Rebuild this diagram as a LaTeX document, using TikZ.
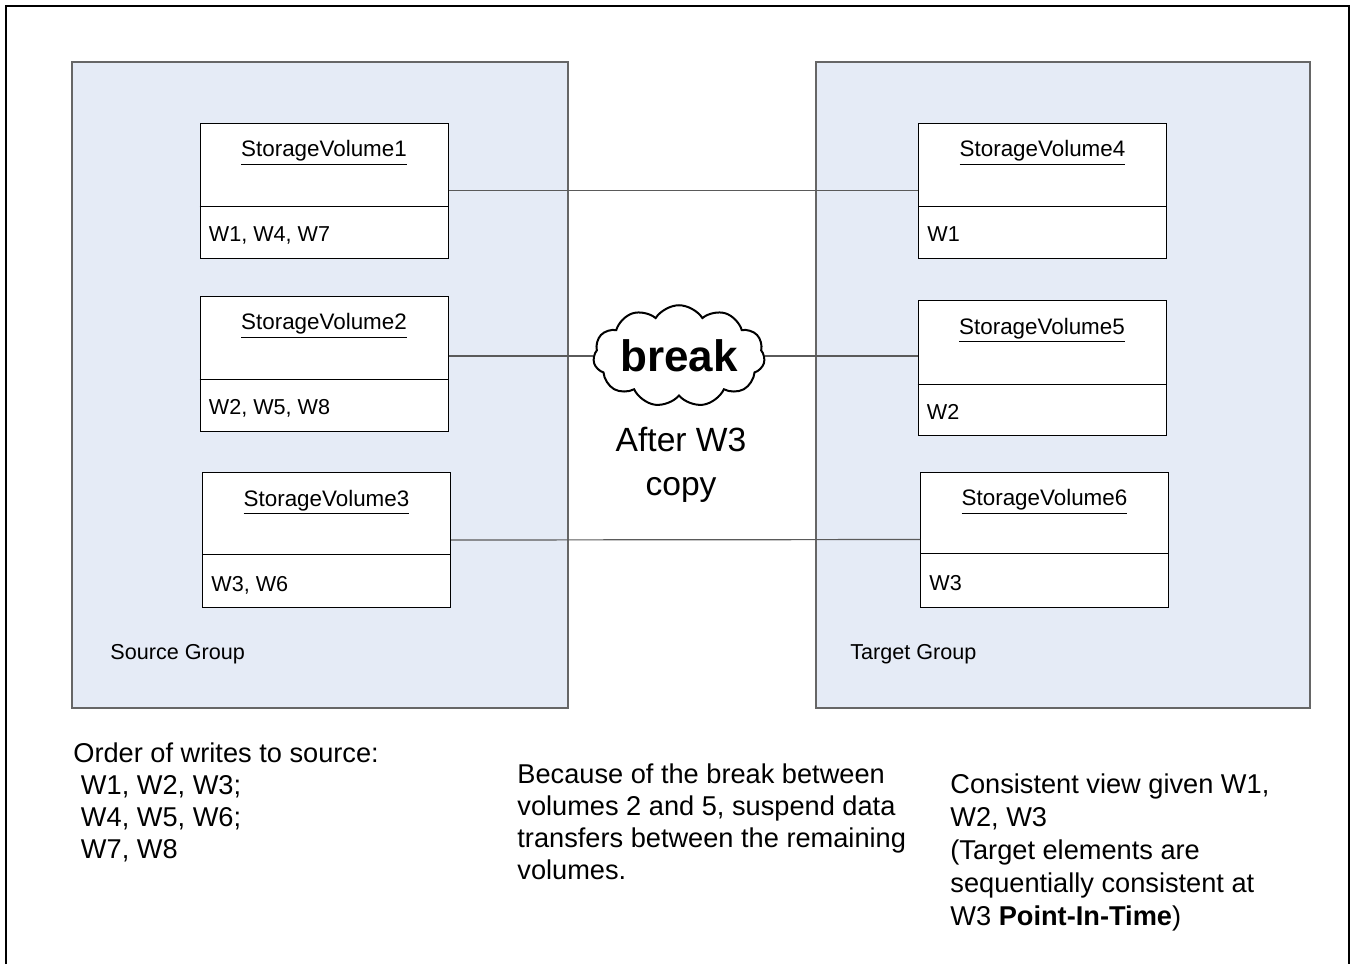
\documentclass[tikz,border=0pt]{standalone}
\usepackage{fontspec}
\setmainfont{Liberation Sans}
\usetikzlibrary{shapes.symbols}

\definecolor{grpfill}{RGB}{229,235,246}
\definecolor{linkgray}{RGB}{90,90,90}

\tikzset{
    group/.style={draw=black!60, fill=grpfill, line width=0.6pt, minimum height=323pt, inner sep=0pt},
    vol/.style={draw=black, fill=white, line width=0.5pt, minimum width=124pt, minimum height=67.5pt, inner sep=0pt},
    vdiv/.style={draw=black, line width=0.5pt},
    vtitle/.style={anchor=base, inner sep=0pt, font=\fontsize{11.2}{13}\selectfont},
    ventry/.style={anchor=base west, inner sep=0pt, font=\fontsize{10.8}{13}\selectfont},
    link/.style={draw=linkgray, line width=0.6pt},
    note/.style={anchor=north west, inner sep=0pt, align=left, font=\fontsize{13.6}{16}\selectfont},
}

\begin{document}
\begin{tikzpicture}[x=0.5pt, y=-0.5pt]
    \useasboundingbox (0,0) rectangle (1352,964);

    % Outer frame (open at the bottom)
    \draw[line width=1pt] (6,964) -- (6,6) -- (1349,6) -- (1349,964);

    % Groups
    \node[group, minimum width=248pt] (srcgrp) at (320,385) {};
    \node[group, minimum width=247pt] (tgtgrp) at (1063,385) {};
    \node[ventry] (srclbl) at (110,659) {Source Group};
    \node[ventry] (tgtlbl) at (850,659) {Target Group};

    % Break cloud
    \node[cloud, draw, fill=white, line width=1pt, cloud puffs=11, cloud puff arc=115, aspect=2.1, inner sep=0pt,
          font=\fontsize{22}{26}\selectfont\bfseries] (brk) at (679,356) {break};
    \node[anchor=north, align=center, inner sep=0pt, font=\fontsize{16.8}{22}\selectfont] (aftr) at (681,427) {After W3\\copy};

    % Volumes
    \node[vol] (sv1) at (324,190.5) {};
    \node[vol] (sv2) at (324,363.5) {};
    \node[vol] (sv3) at (326.5,540) {};
    \node[vol] (sv4) at (1042.5,190.5) {};
    \node[vol] (sv5) at (1042,368) {};
    \node[vol] (sv6) at (1044.5,539.5) {};

    % Links
    \draw[link] (sv1.east) -- (sv4.west);
    \draw[link] (sv2.east |- brk.west) -- (brk.west);
    \draw[link] (brk.east) -- (sv5.west |- brk.east);
    \draw[link] (sv3.east) -- (sv6.west);

    % Volume compartments
    \draw[vdiv] ([yshift=26pt]sv1.south west) -- ([yshift=26pt]sv1.south east);
    \draw[vdiv] ([yshift=26pt]sv2.south west) -- ([yshift=26pt]sv2.south east);
    \draw[vdiv] ([yshift=27pt]sv3.south west) -- ([yshift=27pt]sv3.south east);
    \draw[vdiv] ([yshift=26pt]sv4.south west) -- ([yshift=26pt]sv4.south east);
    \draw[vdiv] ([yshift=26pt]sv5.south west) -- ([yshift=26pt]sv5.south east);
    \draw[vdiv] ([yshift=27pt]sv6.south west) -- ([yshift=27pt]sv6.south east);

    % Volume names
    \node[vtitle] (sv1t) at ([yshift=-17pt]sv1.north) {\underline{StorageVolume1}};
    \node[vtitle] (sv2t) at ([yshift=-17pt]sv2.north) {\underline{StorageVolume2}};
    \node[vtitle] (sv3t) at ([yshift=-17pt]sv3.north) {\underline{StorageVolume3}};
    \node[vtitle] (sv4t) at ([yshift=-17pt]sv4.north) {\underline{StorageVolume4}};
    \node[vtitle] (sv5t) at ([yshift=-17pt]sv5.north) {\underline{StorageVolume5}};
    \node[vtitle] (sv6t) at ([yshift=-17pt]sv6.north) {\underline{StorageVolume6}};

    % Writes held
    \node[ventry] (sv1w) at ([xshift=4.5pt, yshift=8.5pt]sv1.south west) {W1, W4, W7};
    \node[ventry] (sv2w) at ([xshift=4.5pt, yshift=8.5pt]sv2.south west) {W2, W5, W8};
    \node[ventry] (sv3w) at ([xshift=4.5pt, yshift=8.5pt]sv3.south west) {W3, W6};
    \node[ventry] (sv4w) at ([xshift=4.5pt, yshift=8.5pt]sv4.south west) {W1};
    \node[ventry] (sv5w) at ([xshift=4.5pt, yshift=8.5pt]sv5.south west) {W2};
    \node[ventry] (sv6w) at ([xshift=4.5pt, yshift=8.5pt]sv6.south west) {W3};

    % Notes
    \node[note] (order) at (73,742) {Order of writes to source:\\\ W1, W2, W3;\\\ W4, W5, W6;\\\ W7, W8};
    \node[note] (because) at (517,763) {Because of the break between\\volumes 2 and 5, suspend data\\transfers between the remaining\\volumes.};
    \node[note, font=\fontsize{13.6}{16.6}\selectfont] (consist) at (950,773) {Consistent view given W1,\\W2, W3\\(Target elements are\\sequentially consistent at\\W3 \textbf{Point-In-Time})};
\end{tikzpicture}
\end{document}
